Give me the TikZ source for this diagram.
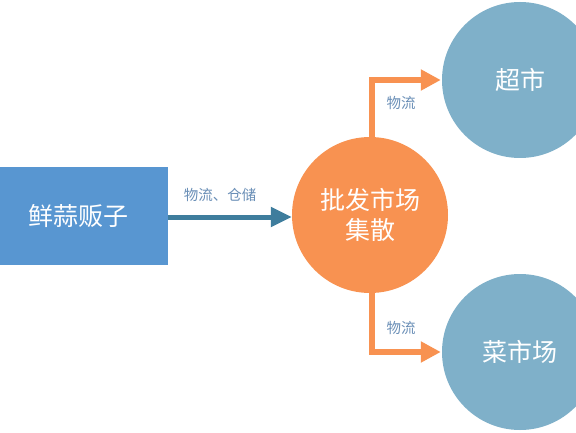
\documentclass[tikz,border=0pt]{standalone}
\usepackage{fontspec}
\setmainfont{Noto Sans CJK SC}
\usepackage{xcolor}
\usetikzlibrary{arrows.meta}

\definecolor{boxblue}{HTML}{5896D1}
\definecolor{arrowblue}{HTML}{3E7D9D}
\definecolor{marketorange}{HTML}{F89251}
\definecolor{shopblue}{HTML}{7FB0C9}
\definecolor{labelblue}{HTML}{6A8FB7}

\tikzset{
  vendorbox/.style={fill=boxblue, text=white, minimum width=180pt, minimum height=98pt, inner sep=0pt, font=\fontsize{25}{28}\selectfont},
  marketdisc/.style={circle, fill=marketorange, text=white, minimum size=156pt, inner sep=0pt, align=center, font=\fontsize{25}{30}\selectfont},
  shopdisc/.style={circle, fill=shopblue, text=white, minimum size=156pt, inner sep=0pt, font=\fontsize{25}{28}\selectfont},
  flowlabel/.style={text=labelblue, font=\fontsize{14.5}{16}\selectfont}
}

\begin{document}
\begin{tikzpicture}[x=1pt,y=1pt]
        \useasboundingbox (0,0) rectangle (576,432);
        \clip (0,0) rectangle (576,432);
        \fill[white] (0,0) rectangle (576,432);
        \node[vendorbox] (vendor) at (78,216) {鲜蒜贩子};
        \node[marketdisc] (market) at (370,217) {批发市场\\集散};
        \node[shopdisc] (supermarket) at (520,352) {超市};
        \node[shopdisc] (foodmarket) at (520,80) {菜市场};
        \draw[arrowblue, line width=5pt, -{Triangle[length=21pt,width=19pt]}] (vendor.east |- 0,215) -- (market.west |- 0,215);
        \draw[marketorange, line width=6pt, -{Triangle[length=20pt,width=20pt]}, shorten >=1pt] (market.north -| 372,0) |- (supermarket.west);
        \draw[marketorange, line width=6pt, -{Triangle[length=20pt,width=20pt]}, shorten >=1pt] (market.south -| 372,0) |- (foodmarket.west);
        \node[flowlabel] (storelabel) at (220,237) {物流、仓储};
        \node[flowlabel] (uplabel) at (401,329) {物流};
        \node[flowlabel] (downlabel) at (401,104) {物流};
    \end{tikzpicture}
\end{document}
